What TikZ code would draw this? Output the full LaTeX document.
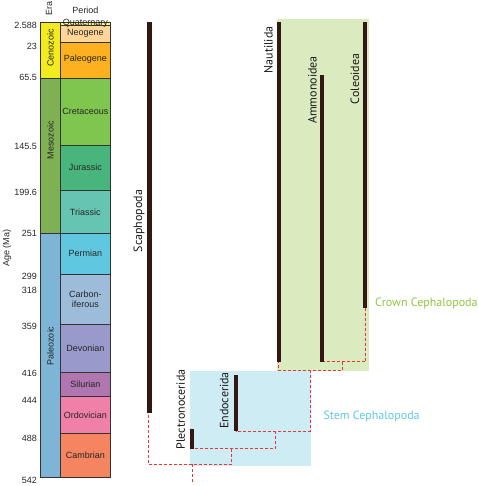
\documentclass[tikz,border=0pt]{standalone}
\usepackage{fontspec}
\setmainfont{Liberation Sans}
\newfontfamily\cladefont{PT Sans}
\definecolor{cenoz}{RGB}{242,236,30}
\definecolor{mesoz}{RGB}{128,176,84}
\definecolor{paleoz}{RGB}{126,180,214}
\definecolor{quat}{RGB}{249,249,127}
\definecolor{neog}{RGB}{255,214,152}
\definecolor{paleog}{RGB}{253,177,30}
\definecolor{cret}{RGB}{127,198,78}
\definecolor{jura}{RGB}{72,182,124}
\definecolor{tria}{RGB}{102,196,178}
\definecolor{perm}{RGB}{95,200,224}
\definecolor{carb}{RGB}{157,188,218}
\definecolor{devo}{RGB}{153,153,204}
\definecolor{silu}{RGB}{176,118,176}
\definecolor{ordo}{RGB}{240,128,168}
\definecolor{camb}{RGB}{245,132,96}
\definecolor{barcol}{RGB}{52,22,20}
\definecolor{dashred}{RGB}{235,52,58}
\definecolor{crownfill}{RGB}{218,235,192}
\definecolor{stemfill}{RGB}{205,236,243}
\definecolor{crowntext}{RGB}{141,198,63}
\definecolor{stemtext}{RGB}{95,200,225}
\tikzset{
  block/.style={draw=black!80, line width=0.8pt},
  pname/.style={font=\fontsize{9}{10}\selectfont, text=black!85, inner sep=0pt, align=center},
  ename/.style={font=\fontsize{9}{10}\selectfont, text=black!85, inner sep=0pt, rotate=90},
  agelab/.style={font=\fontsize{9}{10}\selectfont, text=black!85, anchor=east, inner sep=0pt},
  bar/.style={fill=barcol, draw=none},
  clade/.style={font=\cladefont\fontsize{12}{13}\selectfont, text=black!90, rotate=90, inner sep=0pt},
  link/.style={draw=dashred, dashed, dash pattern=on 3pt off 2pt, line width=0.9pt},
}
\begin{document}
\begin{tikzpicture}[x=1pt, y=-1pt]
\useasboundingbox (0,0) rectangle (477,486);
% clade backgrounds
\fill[crownfill] (276.7,19.3) rectangle (369,370.7);
\fill[stemfill] (190,371) rectangle (311,466);
% headers
\node[ename] (era) at (49,9) {Era};
\node[pname] (period) at (85.5,10) {Period};
\node[ename] (age) at (7,248) {Age (Ma)};
% eras
\draw[block, fill=cenoz] (40.3,22.7) rectangle (60.3,78.3);
\draw[block, fill=mesoz] (40.3,78.3) rectangle (60.3,233.3);
\draw[block, fill=paleoz] (40.3,233.3) rectangle (60.3,477.3);
\node[ename] (ceno) at (50.3,48) {Cenozoic};
\node[ename] (meso) at (50.3,140) {Mesozoic};
\node[ename] (pale) at (50.3,346) {Paleozoic};
% periods
\draw[block, fill=quat] (60.3,22.7) rectangle (110.3,25);
\draw[block, fill=neog] (60.3,25) rectangle (110.3,42);
\draw[block, fill=paleog] (60.3,42) rectangle (110.3,78.3);
\draw[block, fill=cret] (60.3,78.3) rectangle (110.3,145);
\draw[block, fill=jura] (60.3,145) rectangle (110.3,190.7);
\draw[block, fill=tria] (60.3,190.7) rectangle (110.3,233.3);
\draw[block, fill=perm] (60.3,233.3) rectangle (110.3,274);
\draw[block, fill=carb] (60.3,274) rectangle (110.3,324.3);
\draw[block, fill=devo] (60.3,324.3) rectangle (110.3,372.3);
\draw[block, fill=silu] (60.3,372.3) rectangle (110.3,396);
\draw[block, fill=ordo] (60.3,396) rectangle (110.3,433.3);
\draw[block, fill=camb] (60.3,433.3) rectangle (110.3,477.3);
\node[pname] (quatn) at (85.3,23.2) {Quaternary};
\node[pname] (neogn) at (85.3,33.5) {Neogene};
\node[pname] (paleogn) at (85.3,59) {Paleogene};
\node[pname] (cretn) at (85.3,111) {Cretaceous};
\node[pname] (juran) at (85.3,167.5) {Jurassic};
\node[pname] (trian) at (85.3,212) {Triassic};
\node[pname] (permn) at (85.3,253.5) {Permian};
\node[pname] (carbn) at (85.3,299) {Carbon-\\iferous};
\node[pname] (devon) at (85.3,348) {Devonian};
\node[pname] (silun) at (85.3,384) {Silurian};
\node[pname] (ordon) at (85.3,415) {Ordovician};
\node[pname] (cambn) at (85.3,455) {Cambrian};
% ages
\node[agelab] (a1) at (37,25.5) {2.588};
\node[agelab] (a2) at (37,46) {23};
\node[agelab] (a3) at (37,77) {65.5};
\node[agelab] (a4) at (37,146) {145.5};
\node[agelab] (a5) at (37,192) {199.6};
\node[agelab] (a6) at (37,233) {251};
\node[agelab] (a7) at (37,276) {299};
\node[agelab] (a8) at (37,290) {318};
\node[agelab] (a9) at (37,326) {359};
\node[agelab] (a10) at (37,373) {416};
\node[agelab] (a11) at (37,400) {444};
\node[agelab] (a12) at (37,438) {488};
\node[agelab] (a13) at (37,480) {542};
% dashed connectors (drawn under bars)
\coordinate (scaB) at (148.8,412);
\coordinate (nauB) at (278,361.5);
\coordinate (ammB) at (322,361.7);
\coordinate (colB) at (365.5,307.7);
\coordinate (pleB) at (192.5,448.7);
\coordinate (endB) at (235.7,431);
\coordinate (j1) at (342.3,361.7);
\coordinate (j2) at (310.3,370.3);
\coordinate (j3) at (275.7,431);
\coordinate (j4) at (231.7,448.7);
\coordinate (j5) at (192.3,464.3);
\coordinate (rootEnd) at (192.3,484);
\draw[link] (colB) |- (ammB);
\draw[link] (j1) |- (j2) -| (nauB);
\draw[link] (j2) |- (endB);
\draw[link] (j3) |- (pleB);
\draw[link] (j4) |- (j5) -| (scaB);
\draw[link] (j5) -- (rootEnd);
% bars
\fill[bar] (147,22) rectangle (151.7,413);
\fill[bar] (277,22) rectangle (281,361.7);
\fill[bar] (320,75) rectangle (324,362);
\fill[bar] (363.3,22) rectangle (367.3,307.7);
\fill[bar] (190.3,429) rectangle (194.3,449);
\fill[bar] (233.7,375) rectangle (237.7,431);
% clade labels
\node[clade] (sca) at (139,221) {Scaphopoda};
\node[clade] (nau) at (268.5,50) {Nautilida};
\node[clade] (amm) at (312.5,90) {Ammonoidea};
\node[clade] (col) at (355,79) {Coleoidea};
\node[clade] (ple) at (180.7,409.5) {Plectronocerida};
\node[clade] (endo) at (224.3,400.5) {Endocerida};
\node[font=\cladefont\fontsize{12}{13}\selectfont, text=crowntext, anchor=west, inner sep=0pt] (crown) at (375,303) {Crown Cephalopoda};
\node[font=\cladefont\fontsize{12}{13}\selectfont, text=stemtext, anchor=west, inner sep=0pt] (stem) at (323.3,416.7) {Stem Cephalopoda};
\end{tikzpicture}
\end{document}
